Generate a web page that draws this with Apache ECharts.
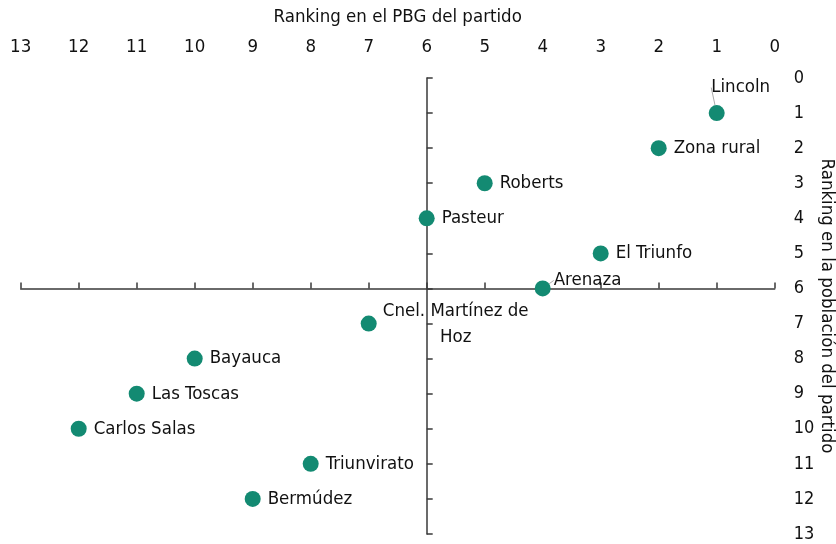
<!DOCTYPE html>
<html>
<head>
<meta charset="utf-8">
<script src="https://cdn.jsdelivr.net/npm/echarts@6/dist/echarts.min.js"></script>
<style>
html, body { margin: 0; padding: 0; background: #fff; }
#chart { width: 836px; height: 544px; }
</style>
</head>
<body>
<div id="chart"></div>
<script>
var localidades = ['Lincoln', 'Zona rural', 'Roberts', 'Pasteur', 'El Triunfo', 'Arenaza',
    'Cnel. Martínez de\nHoz', 'Bayauca', 'Las Toscas', 'Carlos Salas', 'Triunvirato', 'Bermúdez'];
var rankPBG = [1, 2, 5, 6, 3, 4, 7, 10, 11, 12, 8, 9];
var rankPoblacion = [1, 2, 3, 4, 5, 6, 7, 8, 9, 10, 11, 12];
var cruceX = 6, cruceY = 6;

var fuente = "'Liberation Sans Narrow', 'DejaVu Sans Condensed', sans-serif";
var fs = 18.5;
var lineColor = '#3a3a3a';

var puntos = [];
for (var i = 0; i < localidades.length; i++) {
    var p = { value: [rankPBG[i], rankPoblacion[i]], name: localidades[i] };
    if (localidades[i] == 'Lincoln') {
        p.label = { position: 'top', distance: 5 };
        p.labelLine = { show: true, lineStyle: { color: '#aaa', width: 1 } };
    }
    if (localidades[i] == 'Arenaza') {
        p.labelLine = { show: true, lineStyle: { color: '#aaa', width: 1 } };
    }
    if (localidades[i].indexOf('Cnel') == 0) {
        p.label = { position: 'inside', align: 'center', verticalAlign: 'middle', lineHeight: 26 };
    }
    puntos.push(p);
}

var myChart = echarts.init(document.getElementById('chart'));
var option = {
    animation: false,
    textStyle: { fontFamily: fuente },
    grid: { left: 20.7, right: 61.3, top: 78, bottom: 10, outerBoundsMode: 'none', containLabel: false },
    xAxis: [
        {
            type: 'value', position: 'top', inverse: true, min: 0, max: 13, interval: 1,
            name: 'Ranking en el PBG del partido', nameLocation: 'middle', nameGap: 51,
            nameTextStyle: { fontSize: fs, color: '#111', fontFamily: fuente },
            axisLine: { show: false }, axisTick: { show: false }, splitLine: { show: false },
            axisLabel: { margin: 21, fontSize: fs, color: '#111', fontFamily: fuente }
        },
        {
            type: 'value', position: 'bottom', inverse: true, min: 0, max: 13, interval: 1,
            axisLine: { show: true, onZero: true, onZeroAxisIndex: 2, lineStyle: { color: lineColor, width: 1.5 } },
            axisTick: { show: true, inside: true, length: 6, lineStyle: { color: lineColor, width: 1.5 } },
            axisLabel: { show: false }, splitLine: { show: false }
        },
        {
            type: 'value', inverse: true, min: -cruceX, max: 13 - cruceX, show: false,
            splitLine: { show: false }
        }
    ],
    yAxis: [
        {
            type: 'value', position: 'right', inverse: true, min: 0, max: 13, interval: 1,
            name: 'Ranking en la población del partido', nameLocation: 'middle', nameGap: 43, nameRotate: -90,
            nameMoveOverlap: false,
            nameTextStyle: { fontSize: fs, color: '#111', fontFamily: fuente },
            axisLine: { show: false }, axisTick: { show: false }, splitLine: { show: false },
            axisLabel: { margin: 19, fontSize: 18, color: '#111', fontFamily: fuente }
        },
        {
            type: 'value', position: 'left', inverse: true, min: 0, max: 13, interval: 1,
            axisLine: { show: true, onZero: true, onZeroAxisIndex: 2, lineStyle: { color: lineColor, width: 1.5 } },
            axisTick: { show: true, inside: true, length: 6, lineStyle: { color: lineColor, width: 1.5 } },
            axisLabel: { show: false }, splitLine: { show: false }
        },
        {
            type: 'value', inverse: true, min: -cruceY, max: 13 - cruceY, show: false,
            splitLine: { show: false }
        }
    ],
    series: [
        {
            type: 'scatter',
            xAxisIndex: 0,
            yAxisIndex: 0,
            symbolSize: 16,
            itemStyle: { color: '#138a72', opacity: 1 },
            label: {
                show: true, position: 'right', distance: 7,
                formatter: '{b}', fontSize: fs, color: '#111', fontFamily: fuente
            },
            labelLayout: function (params) {
                if (params.text == 'Lincoln') return { dx: 24, dy: -3 };
                if (params.text == 'Arenaza') return { dx: -4, dy: -8 };
                if (params.text.indexOf('Cnel') == 0) return { dx: 87, dy: 1 };
                return {};
            },
            data: puntos
        }
    ]
};
myChart.setOption(option);
</script>
</body>
</html>
